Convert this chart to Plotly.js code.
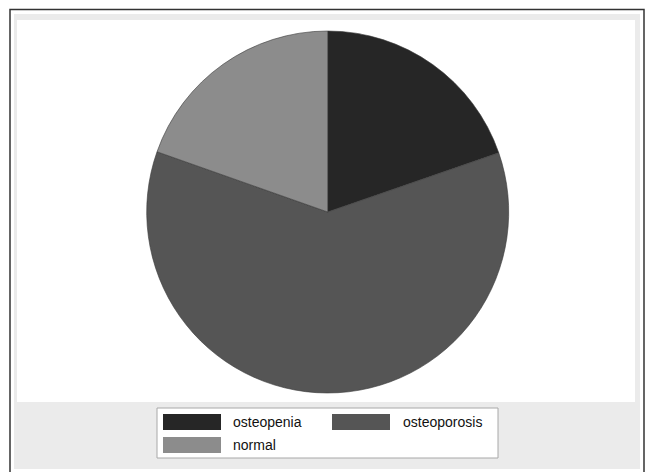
<!DOCTYPE html>
<html>
<head>
<meta charset="utf-8">
<script src="https://cdn.plot.ly/plotly-3.0.1.min.js"></script>
<style>html,body{margin:0;padding:0;background:#fff;}#chart{width:649px;height:472px;}</style>
</head>
<body>
<div id="chart"></div>
<script>
var categories = ["osteopenia", "osteoporosis", "normal"];
var values = [19.7, 60.7, 19.6];
var colors = ["#262626", "#555555", "#8c8c8c"];

var W = 649, H = 472;
function px(x) { return x / W; }
function py(y) { return 1 - y / H; }

var trace = {
  type: "pie",
  labels: categories,
  values: values,
  sort: false,
  direction: "clockwise",
  rotation: 0,
  textinfo: "none",
  hoverinfo: "label+percent",
  showlegend: false,
  marker: { colors: colors, line: { color: "#3a3a3a", width: 0.6 } },
  domain: { x: [px(146.7), px(508.7)], y: [py(393), py(31)] }
};

var shapes = [
  // gray panel
  { type: "rect", xref: "paper", yref: "paper", x0: px(14), x1: px(640), y0: py(469), y1: py(14),
    fillcolor: "#ebebeb", line: { width: 0 }, layer: "below" },
  // white plot region
  { type: "rect", xref: "paper", yref: "paper", x0: px(17), x1: px(635), y0: py(402), y1: py(20),
    fillcolor: "#ffffff", line: { width: 0 }, layer: "below" },
  // outer frame
  { type: "rect", xref: "paper", yref: "paper", x0: px(10), x1: px(644), y0: py(480), y1: py(9.5),
    fillcolor: "rgba(0,0,0,0)", line: { color: "#333333", width: 1.5 }, layer: "above" },
  // legend box
  { type: "rect", xref: "paper", yref: "paper", x0: px(157), x1: px(498), y0: py(458), y1: py(408),
    fillcolor: "#ffffff", line: { color: "#a8a8a8", width: 1 }, layer: "above" }
];
var annotations = [];

// legend entries: 2 columns
var swX = [163, 332], txX = [231, 401], rowY = [422, 445];
for (var i = 0; i < categories.length; i++) {
  var col = i % 2, row = Math.floor(i / 2);
  shapes.push({ type: "rect", xref: "paper", yref: "paper",
    x0: px(swX[col]), x1: px(swX[col] + 58), y0: py(rowY[row] + 8), y1: py(rowY[row] - 8),
    fillcolor: colors[i], line: { width: 0 }, layer: "above" });
  annotations.push({ xref: "paper", yref: "paper", x: px(txX[col]), y: py(rowY[row]),
    xanchor: "left", yanchor: "middle", showarrow: false, text: categories[i],
    font: { family: "Liberation Sans, Arial, sans-serif", size: 14, color: "#111111" } });
}

var layout = {
  width: W, height: H,
  margin: { l: 0, r: 0, t: 0, b: 0 },
  paper_bgcolor: "#ffffff",
  plot_bgcolor: "#ffffff",
  showlegend: false,
  shapes: shapes,
  annotations: annotations
};

Plotly.newPlot("chart", [trace], layout, { displayModeBar: false, staticPlot: true });
</script>
</body>
</html>
